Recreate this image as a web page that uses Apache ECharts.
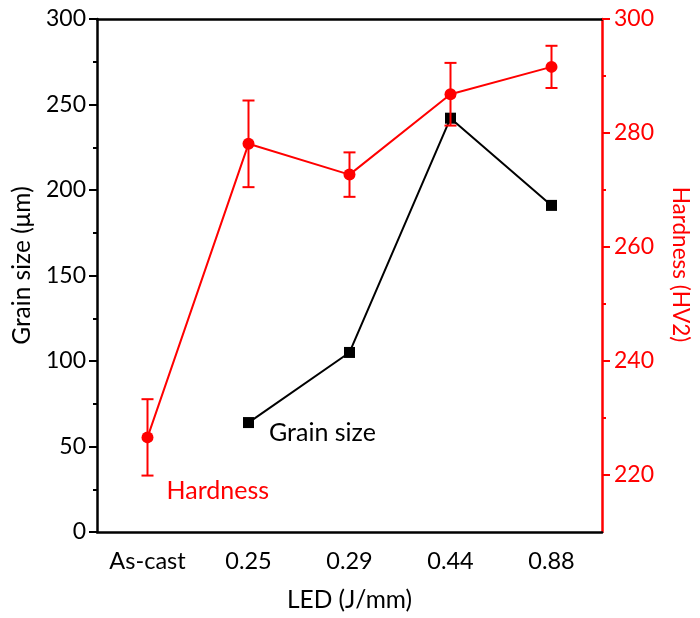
<!DOCTYPE html>
<html>
<head>
<meta charset="utf-8">
<script src="https://cdn.jsdelivr.net/npm/echarts@6/dist/echarts.min.js"></script>
<style>
  html, body { margin: 0; padding: 0; background: #fff; }
  #chart { width: 700px; height: 618px; }
</style>
</head>
<body>
<div id="chart"></div>
<script>
var categories = ['As-cast', '0.25', '0.29', '0.44', '0.88'];
var grainSize = ['-', 64, 105, 242, 191];
var hardness = [226.6, 278.1, 272.7, 286.8, 291.6];
var hardnessErr = [6.7, 7.6, 3.9, 5.5, 3.7];
var rightMajorTicks = [220, 240, 260, 280, 300];
var rightMinorTicks = [230, 250, 270, 290];

var font = 'Lato';
var red = '#ff0000';

var errData = hardness.map(function (v, i) {
  return [i, v - hardnessErr[i], v + hardnessErr[i]];
});

var myChart = echarts.init(document.getElementById('chart'));

var option = {
  animation: false,
  textStyle: { fontFamily: font },
  grid: { left: 97, right: 89, top: 19, bottom: 86, containLabel: false },
  xAxis: [
    {
      type: 'category',
      data: categories,
      name: 'LED (J/mm)',
      nameLocation: 'middle',
      nameGap: 56,
      nameTextStyle: { fontFamily: font, fontSize: 24.5, color: '#000' },
      axisLine: { lineStyle: { color: '#000', width: 2.5 } },
      axisTick: { alignWithLabel: true, length: 7, lineStyle: { color: '#000', width: 2 } },
      axisLabel: { fontFamily: font, fontSize: 23.5, color: '#000', margin: 17 },
      splitLine: { show: false }
    },
    {
      type: 'category',
      data: categories,
      position: 'top',
      axisLine: { lineStyle: { color: '#000', width: 2.5 } },
      axisTick: { show: false },
      axisLabel: { show: false },
      splitLine: { show: false }
    }
  ],
  yAxis: [
    {
      type: 'value',
      min: 0,
      max: 300,
      interval: 50,
      name: 'Grain size (\u03bcm)',
      nameLocation: 'middle',
      nameGap: 58,
      nameRotate: 90,
      nameTextStyle: { fontFamily: font, fontSize: 24.5, color: '#000', padding: [0, 0, 0, 20] },
      axisLine: { show: true, lineStyle: { color: '#000', width: 2.5 } },
      axisTick: { show: true, length: 8, lineStyle: { color: '#000', width: 2 } },
      minorTick: { show: true, splitNumber: 2, length: 4, lineStyle: { color: '#000', width: 2 } },
      axisLabel: { fontFamily: font, fontSize: 23, color: '#000', margin: 11 },
      splitLine: { show: false }
    },
    {
      type: 'value',
      min: 210,
      max: 300,
      position: 'right',
      name: 'Hardness (HV2)',
      nameLocation: 'middle',
      nameGap: 67,
      nameRotate: -90,
      nameTextStyle: { fontFamily: font, fontSize: 22.5, color: red, padding: [0, 22, 0, 0] },
      axisLine: { show: true, lineStyle: { color: red, width: 2.5 } },
      axisTick: { show: true, length: 8, customValues: rightMajorTicks, lineStyle: { color: red, width: 2 } },
      axisLabel: { fontFamily: font, fontSize: 23, color: red, margin: 12, customValues: rightMajorTicks },
      splitLine: { show: false }
    },
    {
      type: 'value',
      min: 210,
      max: 300,
      position: 'right',
      axisLine: { show: false },
      axisTick: { show: true, length: 4, customValues: rightMinorTicks, lineStyle: { color: red, width: 2 } },
      axisLabel: { show: false },
      splitLine: { show: false }
    }
  ],
  series: [
    {
      name: 'Grain size',
      type: 'line',
      yAxisIndex: 0,
      data: grainSize.map(function (v, i) {
        if (i === 1) {
          return {
            value: v,
            label: {
              show: true, position: 'right', distance: 15, offset: [0, 10],
              formatter: 'Grain size', fontFamily: font, fontSize: 25, color: '#000'
            }
          };
        }
        return v;
      }),
      symbol: 'rect',
      symbolSize: 11,
      lineStyle: { color: '#000', width: 2 },
      itemStyle: { color: '#000' },
      z: 2
    },
    {
      name: 'Hardness',
      type: 'line',
      yAxisIndex: 1,
      data: hardness.map(function (v, i) {
        if (i === 0) {
          return {
            value: v,
            label: {
              show: true, position: 'right', distance: 13, offset: [0, 54],
              formatter: 'Hardness', fontFamily: font, fontSize: 25, color: red
            }
          };
        }
        return v;
      }),
      symbol: 'circle',
      symbolSize: 12,
      lineStyle: { color: red, width: 2 },
      itemStyle: { color: red },
      z: 4
    },
    {
      name: 'Hardness error',
      type: 'custom',
      yAxisIndex: 1,
      data: errData,
      z: 3,
      renderItem: function (params, api) {
        var x = api.value(0);
        var lo = api.coord([x, api.value(1)]);
        var hi = api.coord([x, api.value(2)]);
        var hw = 6;
        var style = { stroke: red, lineWidth: 2 };
        return {
          type: 'group',
          children: [
            { type: 'line', shape: { x1: lo[0], y1: lo[1], x2: hi[0], y2: hi[1] }, style: style },
            { type: 'line', shape: { x1: lo[0] - hw, y1: lo[1], x2: lo[0] + hw, y2: lo[1] }, style: style },
            { type: 'line', shape: { x1: hi[0] - hw, y1: hi[1], x2: hi[0] + hw, y2: hi[1] }, style: style }
          ]
        };
      }
    }
  ]
};

myChart.setOption(option);
</script>
</body>
</html>
